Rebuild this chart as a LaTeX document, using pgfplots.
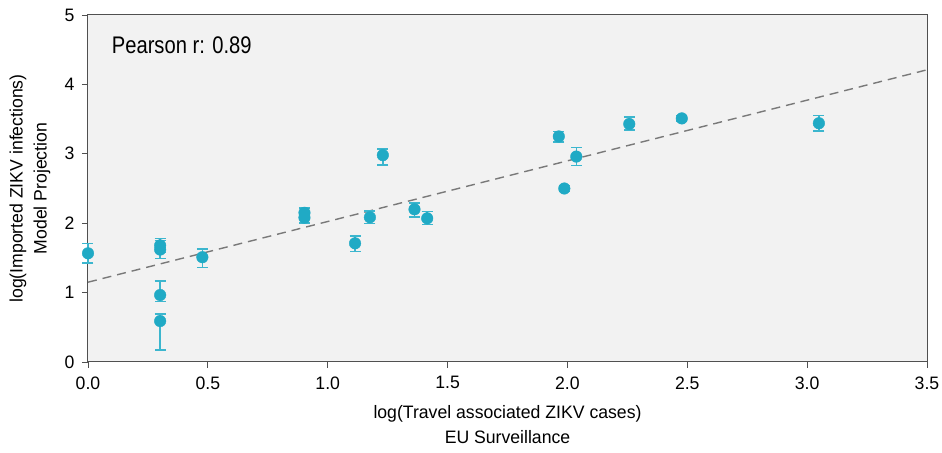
\documentclass[border=0pt]{standalone}
\usepackage{fontspec}
\setmainfont{Liberation Sans}[FakeStretch=0.98]
\newfontfamily\narrowfont{Liberation Sans}[FakeStretch=0.84]
\usepackage{pgfplots}
\pgfplotsset{compat=1.18}
\usepackage{pgfplotstable}
\definecolor{pt}{RGB}{32,170,197}
\definecolor{eb}{RGB}{60,182,206}
\definecolor{bg}{RGB}{242,242,242}
\definecolor{ax}{RGB}{80,80,80}
\pgfplotstableread{
x y ep em
0.000 1.566 0.14 0.14
0.301 1.68 0.10 0.10
0.301 1.62 0.13 0.13
0.301 0.965 0.20 0.095
0.301 0.59 0.10 0.42
0.477 1.51 0.12 0.15
0.903 2.15 0.07 0.07
0.903 2.08 0.08 0.08
1.114 1.71 0.105 0.12
1.176 2.085 0.09 0.09
1.230 2.98 0.09 0.14
1.362 2.20 0.09 0.11
1.415 2.07 0.10 0.09
1.964 3.25 0.07 0.08
1.987 2.50 0.04 0.04
2.037 2.96 0.13 0.13
2.258 3.43 0.10 0.09
2.477 3.51 0.04 0.04
3.049 3.44 0.11 0.11
}\zikv
\begin{document}
\begin{tikzpicture}
\begin{axis}[
  name=a,
  scale only axis,
  width=839pt, height=347pt,
  xmin=0, xmax=3.5, ymin=0, ymax=5,
  axis background/.style={fill=bg},
  axis line style={ax, line width=1pt},
  xtick={0,0.5,...,3.5}, ytick={0,1,...,5},
  xtick pos=left, ytick pos=left,
  tick align=outside,
  major tick length=6pt,
  tick style={ax, line width=0.8pt},
  /pgf/number format/assume math mode=true,
  ticklabel style={font=\fontsize{18}{20}\selectfont, text=black},
  xticklabel style={yshift=-5pt, /pgf/number format/.cd, fixed, fixed zerofill, precision=1},
  yticklabel style={xshift=-4pt},
  xlabel={log(Travel associated ZIKV cases)\\EU Surveillance},
  ylabel={log(Imported ZIKV infections)\\Model Projection},
  every axis x label/.style={at={(rel axis cs:0.5,0)}, anchor=north, yshift=-40pt,
    font=\fontsize{18}{25}\selectfont, align=center},
  every axis y label/.style={at={(rel axis cs:0,0.5)}, rotate=90, anchor=south, yshift=34pt,
    font=\fontsize{18}{24}\selectfont, align=center},
  clip=false,
]
\addplot[color=gray!95!black, line width=1.4pt, dash pattern=on 9pt off 6pt] coordinates {(0,1.15) (3.5,4.21)};
\addplot[only marks, mark=*, mark size=5.8pt, color=pt,
  error bars/.cd, y dir=both, y explicit,
  error bar style={color=eb, line width=1.6pt},
  error mark options={color=eb, line width=1.5pt, mark size=5.5pt, rotate=90}]
  table[x=x, y=y, y error plus=ep, y error minus=em] {\zikv};
\node[anchor=west, font=\narrowfont\fontsize{24}{26}\selectfont] at (axis cs:0.085,4.57) {Pearson r: 0.89};
\end{axis}
\pgfresetboundingbox
\path ([shift={(-88pt,-91pt)}]a.south west) rectangle ([shift={(15pt,15pt)}]a.north east);
\end{tikzpicture}
\end{document}
